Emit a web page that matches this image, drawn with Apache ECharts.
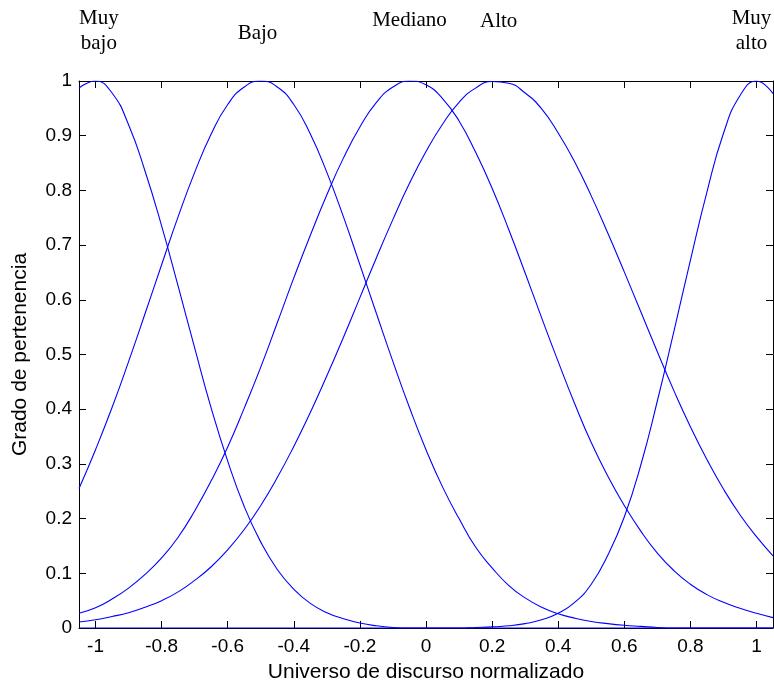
<!DOCTYPE html>
<html>
<head>
<meta charset="utf-8">
<script src="https://cdn.jsdelivr.net/npm/echarts@6/dist/echarts.min.js"></script>
<style>
  html, body { margin: 0; padding: 0; background: #ffffff; }
  #chart { width: 774px; height: 684px; }
</style>
</head>
<body>
<div id="chart"></div>
<script>
// Normalized universe of discourse, sampled every 0.05
const xValues = [-1.05, -1.00, -0.95, -0.90, -0.85, -0.80, -0.75, -0.70, -0.65, -0.60,
                 -0.55, -0.50, -0.45, -0.40, -0.35, -0.30, -0.25, -0.20, -0.15, -0.10,
                 -0.05, 0.00, 0.05, 0.10, 0.15, 0.20, 0.25, 0.30, 0.35, 0.40,
                 0.45, 0.50, 0.55, 0.60, 0.65, 0.70, 0.75, 0.80, 0.85, 0.90,
                 0.95, 1.00, 1.05];

// Membership degree of each fuzzy set at the sampled points
const muyBajo = [0.987, 1.000, 0.978, 0.920, 0.835, 0.735, 0.625, 0.512, 0.402, 0.305,
                 0.222, 0.157, 0.107, 0.071, 0.045, 0.028, 0.017, 0.009, 0.004, 0.001,
                 0, 0, 0, 0, 0, 0, 0, 0, 0, 0,
                 0, 0, 0, 0, 0, 0, 0, 0, 0, 0,
                 0, 0, 0];
const bajo = [0.255, 0.326, 0.403, 0.487, 0.575, 0.664, 0.752, 0.833, 0.903, 0.957,
              0.989, 1.000, 0.989, 0.957, 0.903, 0.833, 0.752, 0.664, 0.575, 0.487,
              0.403, 0.326, 0.258, 0.200, 0.148, 0.110, 0.078, 0.055, 0.038, 0.026,
              0.018, 0.012, 0.008, 0.005, 0.003, 0.001, 0, 0, 0, 0,
              0, 0, 0];
const mediano = [0.027, 0.037, 0.053, 0.073, 0.098, 0.128, 0.166, 0.214, 0.269, 0.331,
                 0.402, 0.477, 0.558, 0.640, 0.718, 0.792, 0.859, 0.916, 0.961, 0.989,
                 1.000, 0.993, 0.968, 0.927, 0.870, 0.804, 0.729, 0.649, 0.567, 0.487,
                 0.410, 0.339, 0.278, 0.224, 0.177, 0.137, 0.105, 0.080, 0.061, 0.047,
                 0.036, 0.027, 0.019];
const alto = [0.011, 0.015, 0.021, 0.028, 0.038, 0.050, 0.066, 0.087, 0.112, 0.143,
              0.180, 0.224, 0.275, 0.332, 0.394, 0.461, 0.531, 0.604, 0.677, 0.747,
              0.813, 0.871, 0.921, 0.961, 0.987, 0.999, 0.996, 0.978, 0.949, 0.905,
              0.852, 0.790, 0.722, 0.651, 0.578, 0.505, 0.434, 0.368, 0.308, 0.254,
              0.207, 0.167, 0.132];
const muyAlto = [0, 0, 0, 0, 0, 0, 0, 0, 0, 0,
                 0, 0, 0, 0, 0, 0, 0, 0, 0, 0,
                 0, 0, 0, 0, 0.001, 0.002, 0.004, 0.008, 0.015, 0.027,
                 0.047, 0.080, 0.133, 0.203, 0.298, 0.415, 0.542, 0.672, 0.797, 0.904,
                 0.973, 1.000, 0.977];

// Axis ticks
const xTicks = [-1, -0.8, -0.6, -0.4, -0.2, 0, 0.2, 0.4, 0.6, 0.8, 1];

// Linguistic labels and the centre of the set each one names
const setNames = ['Muy\nbajo', 'Bajo', 'Mediano', 'Alto', 'Muy\nalto'];
const setCenters = [-0.99, -0.51, -0.05, 0.22, 0.985];

const seriesValues = [muyBajo, bajo, mediano, alto, muyAlto];

// Vertical placement of the labels above the plot (pixels from top)
const labelTop = [30.5, 33.6, 20.2, 21, 31.3];

const chart = echarts.init(document.getElementById('chart'), null, { renderer: 'canvas' });

const sansFont = '"Liberation Sans", Arial, Helvetica, sans-serif';
const lineColor = '#0000ff';

function boxAxis(extra) {
  return Object.assign({
    axisLine: { show: true, onZero: false, lineStyle: { color: '#000', width: 1 } },
    axisTick: { show: true, inside: true, length: 7, lineStyle: { color: '#000', width: 1 } },
    splitLine: { show: false }
  }, extra);
}

const option = {
  backgroundColor: '#ffffff',
  animation: false,
  grid: { left: 79, right: 1, top: 81, bottom: 56, containLabel: false, outerBoundsMode: 'none' },
  xAxis: [
    boxAxis({
      type: 'value', position: 'bottom', min: -1.05, max: 1.05,
      name: 'Universo de discurso normalizado',
      nameLocation: 'middle', nameGap: 34,
      nameTextStyle: { color: '#000', fontSize: 21, fontFamily: sansFont },
      axisTick: { show: true, inside: true, length: 7, customValues: xTicks,
                  lineStyle: { color: '#000', width: 1 } },
      axisLabel: { show: true, customValues: xTicks, margin: 9, color: '#000',
                   fontSize: 19, fontFamily: sansFont }
    }),
    boxAxis({
      type: 'value', position: 'top', min: -1.05, max: 1.05,
      axisTick: { show: true, inside: true, length: 7, customValues: xTicks,
                  lineStyle: { color: '#000', width: 1 } },
      axisLabel: { show: false }
    })
  ],
  yAxis: [
    boxAxis({
      type: 'value', position: 'left', min: 0, max: 1, interval: 0.1,
      name: 'Grado de pertenencia',
      nameLocation: 'middle', nameGap: 48, nameRotate: 90,
      nameTextStyle: { color: '#000', fontSize: 21, fontFamily: sansFont },
      axisLabel: { show: true, margin: 7, color: '#000', fontSize: 19, fontFamily: sansFont }
    }),
    boxAxis({
      type: 'value', position: 'right', min: 0, max: 1, interval: 0.1,
      axisLabel: { show: false }
    })
  ],
  series: seriesValues.map(function (vals, i) {
    return {
      type: 'line',
      name: setNames[i],
      xAxisIndex: 0,
      yAxisIndex: 0,
      data: xValues.map(function (x, k) { return [x, vals[k]]; }),
      showSymbol: false,
      smooth: 0.5,
      lineStyle: { color: lineColor, width: 1.1 },
      itemStyle: { color: lineColor },
      z: 3
    };
  })
};

chart.setOption(option);

// Place each linguistic label above the centre of its set
const graphics = setNames.map(function (name, i) {
  const px = chart.convertToPixel({ gridIndex: 0 }, [setCenters[i], 1])[0];
  return {
    type: 'text',
    x: px,
    y: labelTop[i],
    silent: true,
    style: {
      text: name,
      font: '21px "Liberation Serif", "Times New Roman", Times, serif',
      fill: '#000',
      align: 'center',
      verticalAlign: 'middle',
      lineHeight: 25
    }
  };
});
chart.setOption({ graphic: graphics });
</script>
</body>
</html>
